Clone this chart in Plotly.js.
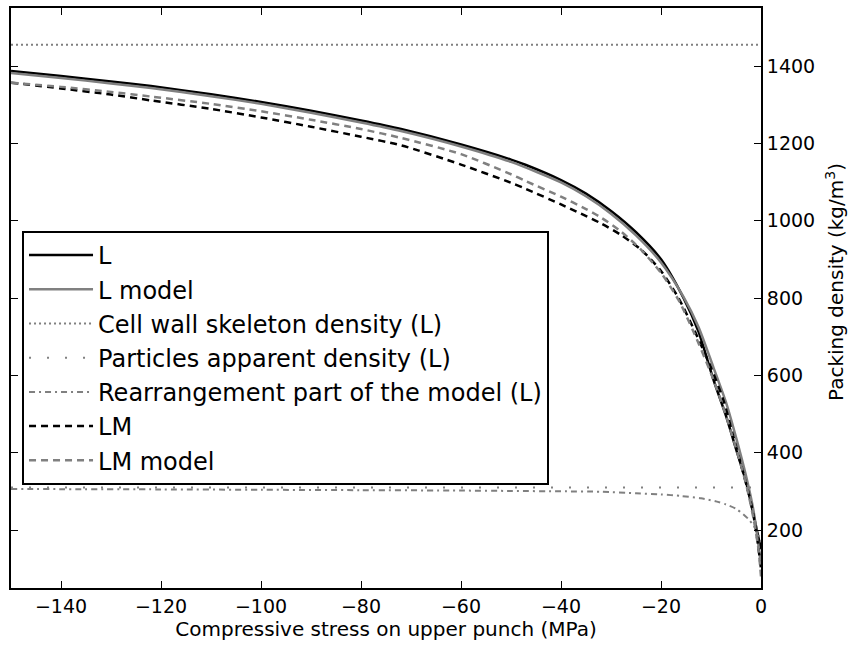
<!DOCTYPE html>
<html>
<head>
<meta charset="utf-8">
<script src="https://cdn.plot.ly/plotly-3.0.1.min.js"></script>
<style>html,body{margin:0;padding:0;background:#fff;}#chart{width:850px;height:645px;}</style>
</head>
<body>
<div id="chart"></div>
<script>
// Series: L (experimental)
const lX = [-150,-140,-130,-122,-110,-100,-90,-80,-72,-60,-50,-47,-40,-35,-30,-25,-20,-15.5,-12.5,-9.5,-7,-5,-3,-1.5,0];
const lY = [1387,1374,1360,1348,1327,1307,1284,1259,1237,1197,1158,1144,1105,1070,1025,970,900,800,713,588,495,410,325,240,150];
// L model
const lmodX = [-150,-140,-130,-122,-110,-100,-90,-80,-72,-60,-50,-40,-35,-30,-25,-20,-15.5,-12.5,-9.5,-7,-4.9,-3,-1.5,0];
const lmodY = [1382,1369,1355,1343,1322,1302,1279,1254,1232,1192,1152,1099,1063,1018,962,892,803,725,620,530,435,340,250,110];
// Cell wall skeleton density (L)
const cwX = [-150, 0];
const cwY = [1455, 1455];
// Particles apparent density (L)
const paX = [-150, 0];
const paY = [310, 310];
// Rearrangement part of the model (L)
const reX = [-150,-120,-100,-80,-60,-50,-40,-32,-25,-20,-16,-12,-9,-7,-5,-3.5,-2.5,-1.5,-0.8,0];
const reY = [306,305,304,303,302,301,300,299,295,292,288,282,274,266,255,240,228,212,195,170];
// LM (experimental)
const lmX = [-150,-140,-130,-122,-110,-100,-90,-80,-72,-60,-50,-47,-40,-36,-32,-28,-24,-20,-16.5,-13.2,-10,-7.5,-5.5,-3.5,-2,-1,0];
const lmY = [1357,1342,1326,1311,1289,1267,1243,1217,1195,1145,1098,1082,1042,1018,993,963,925,870,800,713,620,535,440,345,270,200,100];
// LM model
const lmmX = [-150,-140,-130,-122,-110,-100,-90,-80,-72,-60,-50,-47,-40,-35,-32,-28,-24,-20,-16.5,-13.5,-10,-7.5,-5.2,-3,-1.5,-0.5,0];
const lmmY = [1357,1346,1333,1321,1302,1283,1261,1237,1214,1172,1120,1102,1062,1030,1008,972,925,865,795,713,605,515,420,320,230,150,80];

const xTicks = [-140,-120,-100,-80,-60,-40,-20,0];
const yTicks = [200,400,600,800,1000,1200,1400];
const yTitle = 'Packing density (kg/m<sup>3</sup>)';

const gray = '#808080';
const traces = [
  {x:lX, y:lY, name:'L', line:{color:'#000', width:2.5}},
  {x:lmodX, y:lmodY, name:'L model', line:{color:gray, width:2.5}},
  {x:cwX, y:cwY, name:'Cell wall skeleton density (L)', line:{color:gray, width:2, dash:'2px,3px'}},
  {x:paX, y:paY, name:'Particles apparent density (L)', line:{color:gray, width:2, dash:'2px,16px'}},
  {x:reX, y:reY, name:'Rearrangement part of the model (L)', line:{color:gray, width:2, dash:'6px,4px,2px,4px'}},
  {x:lmX, y:lmY, name:'LM', line:{color:'#000', width:2.5, dash:'7px,5px'}},
  {x:lmmX, y:lmmY, name:'LM model', line:{color:gray, width:2.5, dash:'7px,5px'}}
].map((t,i)=>{
  t.line.shape = 'spline';
  t.line.smoothing = 0.7;
  return Object.assign({type:'scatter', mode:'lines', legendgroup:'g'+i}, t);
});

const layout = {
  width:850, height:645,
  margin:{l:11, r:89, t:8, b:57},
  paper_bgcolor:'#fff', plot_bgcolor:'#fff',
  font:{family:'DejaVu Sans', size:19, color:'#000'},
  showlegend:true,
  legend:{x:0.0147, y:0.6155, xanchor:'left', yanchor:'top', bgcolor:'#fff',
          bordercolor:'#000', borderwidth:2, font:{size:24, family:'DejaVu Sans'},
          tracegroupgap:0, traceorder:'grouped', itemwidth:64},
  xaxis:{range:[-150,0], tickvals:xTicks, ticks:'inside', ticklen:7, tickcolor:'#000',
         showline:true, linecolor:'#000', linewidth:2, mirror:'ticks', showgrid:false, zeroline:false,
         title:{text:'Compressive stress on upper punch (MPa)', font:{size:20}, standoff:4},
         tickfont:{size:19}},
  yaxis:{range:[50,1550], side:'right', tickvals:yTicks, ticks:'inside', ticklen:7, tickcolor:'#000',
         showline:true, linecolor:'#000', linewidth:2, mirror:'ticks', showgrid:false, zeroline:false,
         tickfont:{size:19}},
  annotations:[{text:yTitle, xref:'paper', yref:'paper', x:1, y:0.5276, xshift:74,
                xanchor:'center', yanchor:'middle', textangle:-90, showarrow:false,
                font:{size:20, family:'DejaVu Sans', color:'#000'}}]
};
Plotly.newPlot('chart', traces, layout, {displayModeBar:false, staticPlot:true});
</script>
</body>
</html>
